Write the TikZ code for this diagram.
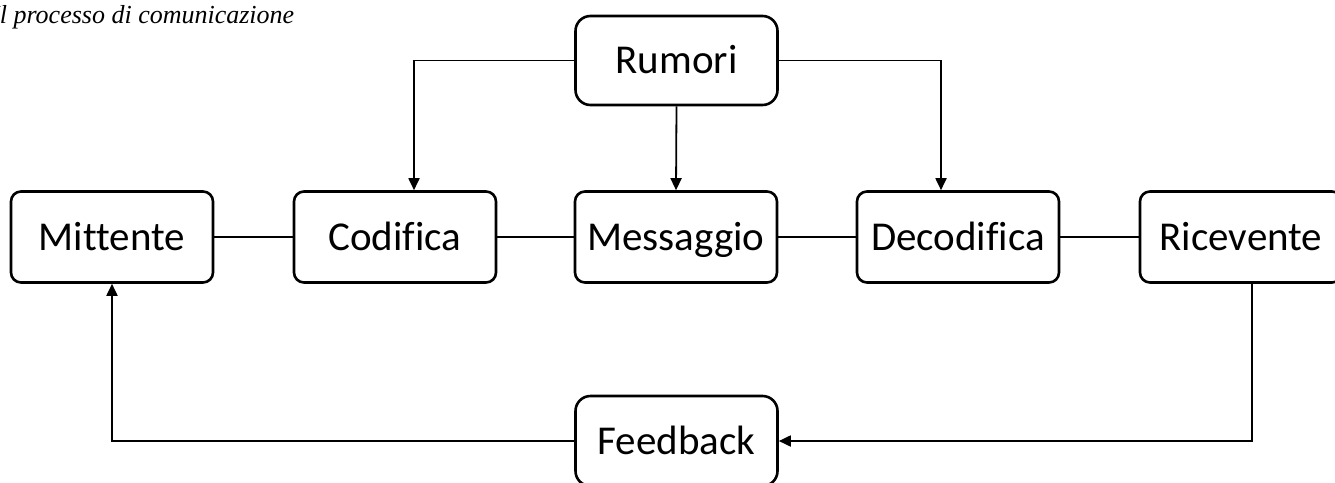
\documentclass[tikz,border=0pt]{standalone}
\usepackage{fontspec}
\setmainfont{Liberation Serif}
\newfontfamily\boxfont[Ligatures=NoCommon]{Carlito}
\usetikzlibrary{arrows.meta}

\tikzset{
  stage/.style={draw, line width=2.6pt, rounded corners=10pt,
    minimum width=202pt, minimum height=91pt, inner sep=0pt,
    font=\boxfont\fontsize{41}{41}\selectfont,
    text height=26pt, text depth=0pt},
  outer/.style={stage, rounded corners=15pt},
  link/.style={line width=1.8pt},
  flow/.style={link, -{Triangle[length=12pt, width=11pt]}}
}

\begin{document}
\begin{tikzpicture}[x=1pt, y=-1pt]
  \useasboundingbox (0,0) rectangle (1335,482);

  % heading
  \node[anchor=base west, inner sep=0pt,
        font=\fontsize{26}{26}\itshape\selectfont]
    (title) at (-9,23) {Il processo di comunicazione};

  % main chain
  \node[stage] (mit) at (112,237) {Mittente};
  \node[stage] (cod) at (395,237) {Codifica};
  \node[stage] (mes) at (676,237) {Messaggio};
  \node[stage] (dec) at (958,237) {Decodifica};
  \node[stage] (ric) at (1241,237) {Ricevente};

  % noise and feedback
  \node[outer, minimum height=89pt] (rum) at (676.5,60.5) {Rumori};
  \node[outer, minimum height=90pt] (fb) at (676.5,441) {Feedback};

  \draw[link] (mit.east) -- (cod.west);
  \draw[link] (cod.east) -- (mes.west);
  \draw[link] (mes.east) -- (dec.west);
  \draw[link] (dec.east) -- (ric.west);

  \draw[flow] (rum.west) -| ([xshift=19pt]cod.north);
  \draw[flow] (rum.south) -- (mes.north);
  \draw[flow] (rum.east) -| ([xshift=-17pt]dec.north);

  \draw[flow] ([xshift=11pt]ric.south) |- (fb.east);
  \draw[flow] (fb.west) -| (mit.south);
\end{tikzpicture}
\end{document}
